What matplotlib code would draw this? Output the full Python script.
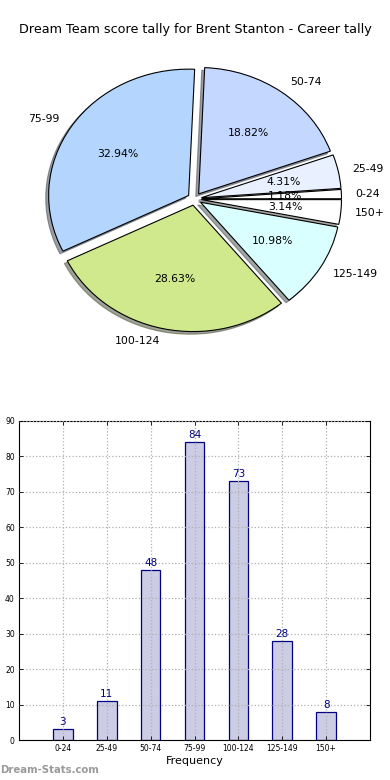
import matplotlib
matplotlib.use("Agg")
import matplotlib.pyplot as plt

categories = ["0-24", "25-49", "50-74", "75-99", "100-124", "125-149", "150+"]
counts = [3, 11, 48, 84, 73, 28, 8]
pie_colors = ["#ffffff", "#e9f0ff", "#c4d8ff", "#b4d6fe", "#cfe98c", "#daffff", "#ffffff"]
explode = [0.05] * len(counts)
y_ticks = [0, 10, 20, 30, 40, 50, 60, 70, 80, 90]

fig = plt.figure(figsize=(3.9, 7.8), dpi=100)
fig.text(0.5, 1 - 30 / 780, "Dream Team score tally for Brent Stanton - Career tally",
         ha="center", va="center", fontsize=9.2)

# Pie (stretched, not equal aspect, like the old output)
ax1 = fig.add_axes([19.5 / 390, 1 - 357 / 780, 350 / 390, 316 / 780])
wedges, labels, pcts = ax1.pie(counts, labels=categories, colors=pie_colors, explode=explode,
                               autopct="%.2f%%", shadow={"ox": -0.015, "oy": -0.015},
                               startangle=0,
                               wedgeprops={"edgecolor": "black", "linewidth": 0.8},
                               textprops={"fontsize": 7.8})
ax1.set_aspect("auto")
ax1.set_xlim(-1.25, 1.25)
ax1.set_ylim(-1.25, 1.25)

# Bar chart
ax2 = fig.add_axes([19 / 390, 40 / 780, 351 / 390, 319 / 780])
x = range(len(categories))
ax2.bar(x, counts, width=0.45, facecolor=(0, 0, 0.5, 0.2), edgecolor="#000080",
        linewidth=0.9, zorder=2)
for i, v in enumerate(counts):
    ax2.text(i, v + 0.6, str(v), ha="center", va="bottom", color="#000080", fontsize=7.5)
ax2.set_xlim(-1, 7)
ax2.set_ylim(0, 90)
ax2.set_xticks(list(x))
ax2.set_xticklabels(categories, fontsize=5.5)
ax2.set_yticks(y_ticks)
ax2.set_yticklabels([str(t) for t in y_ticks], fontsize=5.5)
ax2.tick_params(direction="in", top=True, right=True, length=3, width=0.6, pad=3)
ax2.grid(True, linestyle=":", color="#b0b0b0", linewidth=0.9, zorder=3)
ax2.set_axisbelow(False)
ax2.set_xlabel("Frequency", fontsize=8, labelpad=2)

fig.text(0.0, 1 - 770 / 780, "Dream-Stats.com", color="#9a9a9a", fontsize=7.3,
         fontweight="bold", ha="left", va="center")

fig.savefig("out.png", dpi=100)
